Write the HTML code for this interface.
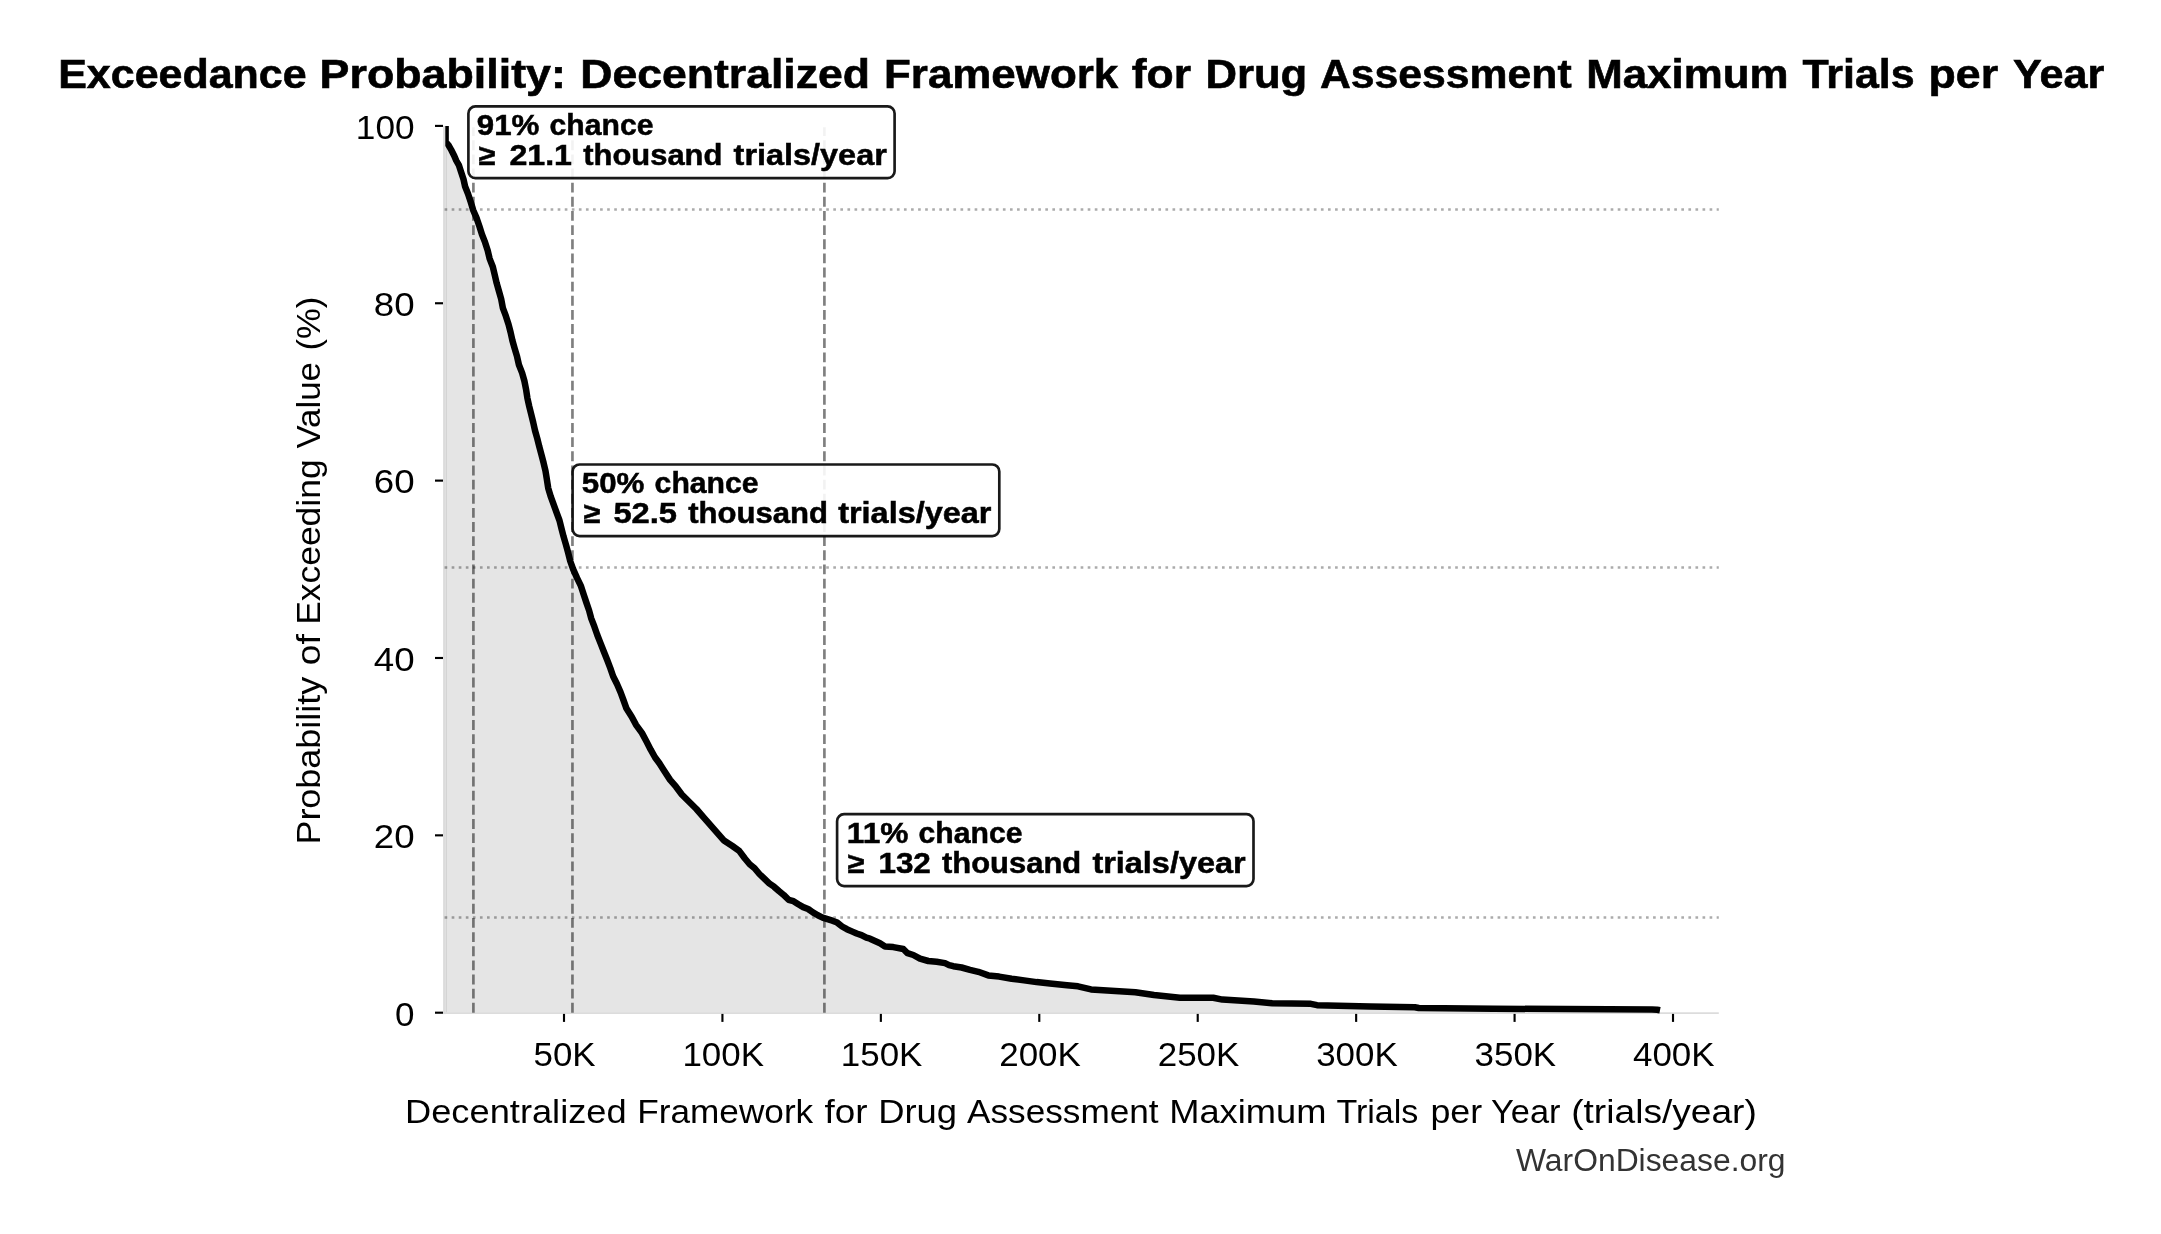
<!DOCTYPE html><html><head><meta charset="utf-8"><style>html,body{margin:0;padding:0;background:#fff;}svg{display:block;will-change:transform;}</style></head><body>
<svg width="2161" height="1234" viewBox="0 0 2161 1234" font-family='"Liberation Sans", sans-serif'>
<rect width="2161" height="1234" fill="#fff"/>
<path d="M445.6,1012.7 L445.6,126.0 L445.6,141.9 L448.5,145.1 L451.3,150.0 L454.2,155.7 L456.2,160.5 L459.0,165.4 L461.1,171.9 L463.5,179.2 L465.1,186.5 L468.0,193.7 L470.4,201.0 L472.4,207.5 L473.1,210.0 L476.6,218.1 L479.4,226.2 L481.9,234.3 L485.1,242.4 L487.7,250.5 L489.6,258.6 L492.8,266.7 L494.7,274.8 L496.6,282.9 L498.9,291.0 L501.2,299.1 L502.9,308.1 L505.9,316.2 L508.5,324.3 L510.6,332.4 L512.4,340.5 L514.7,348.6 L517.1,356.7 L518.9,364.8 L522.1,372.9 L524.4,381.0 L526.0,389.1 L527.4,398.1 L529.2,406.2 L531.2,414.3 L533.2,422.4 L535.0,430.5 L537.3,438.6 L539.3,446.7 L541.5,454.8 L543.6,462.9 L545.5,471.0 L546.8,479.1 L548.2,488.1 L550.6,496.2 L553.6,504.3 L556.5,512.4 L559.5,520.5 L561.5,528.6 L563.6,536.7 L566.0,544.8 L568.2,552.9 L570.2,561.0 L573.1,569.1 L577.1,578.1 L581.0,586.2 L583.6,594.3 L586.3,602.4 L589.1,610.5 L591.3,618.6 L594.4,626.7 L597.2,634.8 L600.4,642.9 L603.6,651.0 L607.2,660.0 L610.3,668.1 L613.1,676.2 L617.1,684.3 L620.6,692.4 L623.6,700.5 L626.5,708.6 L631.7,716.7 L636.0,724.8 L641.9,732.9 L646.5,741.5 L650.7,749.7 L655.1,757.5 L659.4,763.3 L664.3,771.1 L670.1,779.9 L676.0,786.7 L681.8,794.5 L688.6,801.3 L696.4,809.0 L703.2,816.8 L710.0,824.6 L716.8,832.4 L723.6,840.2 L732.4,846.0 L739.2,850.9 L744.9,858.5 L749.7,864.3 L754.6,868.2 L759.4,874.0 L764.3,878.7 L769.2,883.3 L774.0,886.7 L778.9,891.0 L783.7,894.9 L788.6,899.8 L793.5,901.2 L798.3,904.2 L803.2,907.1 L808.1,909.0 L812.9,912.4 L817.8,915.3 L822.6,917.6 L827.5,919.2 L832.4,920.7 L837.2,922.6 L842.1,926.5 L846.9,929.2 L851.8,931.4 L856.7,933.5 L861.5,935.1 L866.4,937.7 L870.0,938.7 L880.0,943.3 L885.0,946.5 L893.3,947.1 L903.3,949.0 L907.5,953.2 L913.3,955.0 L920.0,958.7 L928.3,961.0 L936.6,961.8 L945.0,963.1 L949.1,965.1 L953.3,966.2 L961.6,967.5 L970.0,969.8 L978.3,971.8 L988.3,975.4 L999.1,976.6 L1011.6,978.7 L1024.1,980.4 L1036.6,982.1 L1050.0,983.5 L1067.0,985.2 L1078.0,986.3 L1091.0,989.4 L1135.4,992.2 L1154.0,995.0 L1179.9,997.7 L1213.2,997.7 L1222.4,999.6 L1253.9,1001.4 L1272.2,1003.2 L1310.9,1003.8 L1317.0,1005.2 L1370.0,1006.4 L1414.8,1007.2 L1418.8,1008.0 L1494.0,1008.7 L1565.4,1009.1 L1652.0,1009.4 L1657.0,1009.7 L1660.0,1010.3 L1660.0,1012.7 Z" fill="#e5e5e5" stroke="none"/>
<rect x="443.1" y="125.9" width="2.6" height="888.2" fill="#dcdcdc"/>
<line x1="446.4" y1="141.9" x2="446.4" y2="1012.7" stroke="#cfcfcf" stroke-width="0.9"/>
<line x1="443" y1="1013.1" x2="1718.8" y2="1013.1" stroke="#dcdcdc" stroke-width="1.9"/>
<line x1="444.6" y1="209.48" x2="1718.8" y2="209.48" stroke="#000" stroke-opacity="0.33" stroke-width="2.667" stroke-dasharray="2.667 4.4"/>
<line x1="444.6" y1="567.46" x2="1718.8" y2="567.46" stroke="#000" stroke-opacity="0.33" stroke-width="2.667" stroke-dasharray="2.667 4.4"/>
<line x1="444.6" y1="917.48" x2="1718.8" y2="917.48" stroke="#000" stroke-opacity="0.33" stroke-width="2.667" stroke-dasharray="2.667 4.4"/>
<line x1="473.40" y1="1012.7" x2="473.40" y2="127.3" stroke="#000" stroke-opacity="0.5" stroke-width="2.667" stroke-dasharray="9.87 4.27"/>
<line x1="572.45" y1="1012.7" x2="572.45" y2="127.3" stroke="#000" stroke-opacity="0.5" stroke-width="2.667" stroke-dasharray="9.87 4.27"/>
<line x1="824.40" y1="1012.7" x2="824.40" y2="127.3" stroke="#000" stroke-opacity="0.5" stroke-width="2.667" stroke-dasharray="9.87 4.27"/>
<clipPath id="ax"><rect x="445.3" y="0" width="1400" height="1234"/></clipPath>
<path d="M445.6,126.0 L445.6,141.9 L448.5,145.1 L451.3,150.0 L454.2,155.7 L456.2,160.5 L459.0,165.4 L461.1,171.9 L463.5,179.2 L465.1,186.5 L468.0,193.7 L470.4,201.0 L472.4,207.5 L473.1,210.0 L476.6,218.1 L479.4,226.2 L481.9,234.3 L485.1,242.4 L487.7,250.5 L489.6,258.6 L492.8,266.7 L494.7,274.8 L496.6,282.9 L498.9,291.0 L501.2,299.1 L502.9,308.1 L505.9,316.2 L508.5,324.3 L510.6,332.4 L512.4,340.5 L514.7,348.6 L517.1,356.7 L518.9,364.8 L522.1,372.9 L524.4,381.0 L526.0,389.1 L527.4,398.1 L529.2,406.2 L531.2,414.3 L533.2,422.4 L535.0,430.5 L537.3,438.6 L539.3,446.7 L541.5,454.8 L543.6,462.9 L545.5,471.0 L546.8,479.1 L548.2,488.1 L550.6,496.2 L553.6,504.3 L556.5,512.4 L559.5,520.5 L561.5,528.6 L563.6,536.7 L566.0,544.8 L568.2,552.9 L570.2,561.0 L573.1,569.1 L577.1,578.1 L581.0,586.2 L583.6,594.3 L586.3,602.4 L589.1,610.5 L591.3,618.6 L594.4,626.7 L597.2,634.8 L600.4,642.9 L603.6,651.0 L607.2,660.0 L610.3,668.1 L613.1,676.2 L617.1,684.3 L620.6,692.4 L623.6,700.5 L626.5,708.6 L631.7,716.7 L636.0,724.8 L641.9,732.9 L646.5,741.5 L650.7,749.7 L655.1,757.5 L659.4,763.3 L664.3,771.1 L670.1,779.9 L676.0,786.7 L681.8,794.5 L688.6,801.3 L696.4,809.0 L703.2,816.8 L710.0,824.6 L716.8,832.4 L723.6,840.2 L732.4,846.0 L739.2,850.9 L744.9,858.5 L749.7,864.3 L754.6,868.2 L759.4,874.0 L764.3,878.7 L769.2,883.3 L774.0,886.7 L778.9,891.0 L783.7,894.9 L788.6,899.8 L793.5,901.2 L798.3,904.2 L803.2,907.1 L808.1,909.0 L812.9,912.4 L817.8,915.3 L822.6,917.6 L827.5,919.2 L832.4,920.7 L837.2,922.6 L842.1,926.5 L846.9,929.2 L851.8,931.4 L856.7,933.5 L861.5,935.1 L866.4,937.7 L870.0,938.7 L880.0,943.3 L885.0,946.5 L893.3,947.1 L903.3,949.0 L907.5,953.2 L913.3,955.0 L920.0,958.7 L928.3,961.0 L936.6,961.8 L945.0,963.1 L949.1,965.1 L953.3,966.2 L961.6,967.5 L970.0,969.8 L978.3,971.8 L988.3,975.4 L999.1,976.6 L1011.6,978.7 L1024.1,980.4 L1036.6,982.1 L1050.0,983.5 L1067.0,985.2 L1078.0,986.3 L1091.0,989.4 L1135.4,992.2 L1154.0,995.0 L1179.9,997.7 L1213.2,997.7 L1222.4,999.6 L1253.9,1001.4 L1272.2,1003.2 L1310.9,1003.8 L1317.0,1005.2 L1370.0,1006.4 L1414.8,1007.2 L1418.8,1008.0 L1494.0,1008.7 L1565.4,1009.1 L1652.0,1009.4 L1657.0,1009.7 L1660.0,1010.3" fill="none" stroke="#000" stroke-width="6.5" stroke-linejoin="round" stroke-linecap="butt" clip-path="url(#ax)"/>
<line x1="435" y1="1012.70" x2="443" y2="1012.70" stroke="#000" stroke-width="2.13"/>
<text x="395.10" y="1025.5" font-size="34" textLength="19.5" lengthAdjust="spacingAndGlyphs">0</text>
<line x1="435" y1="835.34" x2="443" y2="835.34" stroke="#000" stroke-width="2.13"/>
<text x="373.78" y="848.1" font-size="34" textLength="40.82" lengthAdjust="spacingAndGlyphs">20</text>
<line x1="435" y1="657.98" x2="443" y2="657.98" stroke="#000" stroke-width="2.13"/>
<text x="373.78" y="670.8" font-size="34" textLength="40.82" lengthAdjust="spacingAndGlyphs">40</text>
<line x1="435" y1="480.62" x2="443" y2="480.62" stroke="#000" stroke-width="2.13"/>
<text x="373.78" y="493.4" font-size="34" textLength="40.82" lengthAdjust="spacingAndGlyphs">60</text>
<line x1="435" y1="303.26" x2="443" y2="303.26" stroke="#000" stroke-width="2.13"/>
<text x="373.78" y="316.1" font-size="34" textLength="40.82" lengthAdjust="spacingAndGlyphs">80</text>
<line x1="435" y1="125.90" x2="443" y2="125.90" stroke="#000" stroke-width="2.13"/>
<text x="355.82" y="138.7" font-size="34" textLength="58.78" lengthAdjust="spacingAndGlyphs">100</text>
<line x1="564.00" y1="1013.9" x2="564.00" y2="1021.9" stroke="#000" stroke-width="2.13"/>
<text x="533.50" y="1066" font-size="34" textLength="62.12" lengthAdjust="spacingAndGlyphs">50K</text>
<line x1="722.43" y1="1013.9" x2="722.43" y2="1021.9" stroke="#000" stroke-width="2.13"/>
<text x="682.43" y="1066" font-size="34" textLength="81.54" lengthAdjust="spacingAndGlyphs">100K</text>
<line x1="880.86" y1="1013.9" x2="880.86" y2="1021.9" stroke="#000" stroke-width="2.13"/>
<text x="840.86" y="1066" font-size="34" textLength="81.54" lengthAdjust="spacingAndGlyphs">150K</text>
<line x1="1039.29" y1="1013.9" x2="1039.29" y2="1021.9" stroke="#000" stroke-width="2.13"/>
<text x="999.29" y="1066" font-size="34" textLength="81.54" lengthAdjust="spacingAndGlyphs">200K</text>
<line x1="1197.72" y1="1013.9" x2="1197.72" y2="1021.9" stroke="#000" stroke-width="2.13"/>
<text x="1157.72" y="1066" font-size="34" textLength="81.54" lengthAdjust="spacingAndGlyphs">250K</text>
<line x1="1356.15" y1="1013.9" x2="1356.15" y2="1021.9" stroke="#000" stroke-width="2.13"/>
<text x="1316.15" y="1066" font-size="34" textLength="81.54" lengthAdjust="spacingAndGlyphs">300K</text>
<line x1="1514.58" y1="1013.9" x2="1514.58" y2="1021.9" stroke="#000" stroke-width="2.13"/>
<text x="1474.58" y="1066" font-size="34" textLength="81.54" lengthAdjust="spacingAndGlyphs">350K</text>
<line x1="1673.01" y1="1013.9" x2="1673.01" y2="1021.9" stroke="#000" stroke-width="2.13"/>
<text x="1633.01" y="1066" font-size="34" textLength="81.54" lengthAdjust="spacingAndGlyphs">400K</text>
<rect x="468.4" y="106.4" width="426.2" height="71.8" rx="7" ry="7" fill="#fff" fill-opacity="0.9" stroke="#000" stroke-opacity="0.9" stroke-width="2.667"/>
<rect x="572.6" y="464.5" width="426.7" height="71.6" rx="7" ry="7" fill="#fff" fill-opacity="0.9" stroke="#000" stroke-opacity="0.9" stroke-width="2.667"/>
<rect x="837.1" y="814.2" width="416.4" height="71.9" rx="7" ry="7" fill="#fff" fill-opacity="0.9" stroke="#000" stroke-opacity="0.9" stroke-width="2.667"/>
<text x="476.8" y="135.1" font-size="29" font-weight="bold" stroke="#000" stroke-width="0.5" textLength="62.64" lengthAdjust="spacingAndGlyphs">91%</text>
<text x="549.6" y="135.1" font-size="29" font-weight="bold" stroke="#000" stroke-width="0.5" textLength="103.82" lengthAdjust="spacingAndGlyphs">chance</text>
<text x="478.8" y="164.9" font-size="29" font-weight="bold" stroke="#000" stroke-width="0.5" textLength="16.84" lengthAdjust="spacingAndGlyphs">≥</text>
<text x="509.4" y="164.9" font-size="29" font-weight="bold" stroke="#000" stroke-width="0.5" textLength="62.61" lengthAdjust="spacingAndGlyphs">21.1</text>
<text x="583.2" y="164.9" font-size="29" font-weight="bold" stroke="#000" stroke-width="0.5" textLength="139.22" lengthAdjust="spacingAndGlyphs">thousand</text>
<text x="733.6" y="164.9" font-size="29" font-weight="bold" stroke="#000" stroke-width="0.5" textLength="153.21" lengthAdjust="spacingAndGlyphs">trials/year</text>
<text x="581.8" y="492.9" font-size="29" font-weight="bold" stroke="#000" stroke-width="0.5" textLength="62.63" lengthAdjust="spacingAndGlyphs">50%</text>
<text x="654.6" y="492.9" font-size="29" font-weight="bold" stroke="#000" stroke-width="0.5" textLength="104.01" lengthAdjust="spacingAndGlyphs">chance</text>
<text x="583.8" y="522.7" font-size="29" font-weight="bold" stroke="#000" stroke-width="0.5" textLength="16.84" lengthAdjust="spacingAndGlyphs">≥</text>
<text x="613.4" y="522.7" font-size="29" font-weight="bold" stroke="#000" stroke-width="0.5" textLength="63.65" lengthAdjust="spacingAndGlyphs">52.5</text>
<text x="688.2" y="522.7" font-size="29" font-weight="bold" stroke="#000" stroke-width="0.5" textLength="139.82" lengthAdjust="spacingAndGlyphs">thousand</text>
<text x="838.2" y="522.7" font-size="29" font-weight="bold" stroke="#000" stroke-width="0.5" textLength="153.2" lengthAdjust="spacingAndGlyphs">trials/year</text>
<text x="846.8" y="842.9" font-size="29" font-weight="bold" stroke="#000" stroke-width="0.5" textLength="61.65" lengthAdjust="spacingAndGlyphs">11%</text>
<text x="918.6" y="842.9" font-size="29" font-weight="bold" stroke="#000" stroke-width="0.5" textLength="103.82" lengthAdjust="spacingAndGlyphs">chance</text>
<text x="847.8" y="872.7" font-size="29" font-weight="bold" stroke="#000" stroke-width="0.5" textLength="16.88" lengthAdjust="spacingAndGlyphs">≥</text>
<text x="878.4" y="872.7" font-size="29" font-weight="bold" stroke="#000" stroke-width="0.5" textLength="52.48" lengthAdjust="spacingAndGlyphs">132</text>
<text x="942.0" y="872.7" font-size="29" font-weight="bold" stroke="#000" stroke-width="0.5" textLength="139.21" lengthAdjust="spacingAndGlyphs">thousand</text>
<text x="1092.4" y="872.7" font-size="29" font-weight="bold" stroke="#000" stroke-width="0.5" textLength="153.21" lengthAdjust="spacingAndGlyphs">trials/year</text>
<text x="58.2" y="88" font-size="40" font-weight="bold" stroke="#000" stroke-width="0.6" textLength="248.45" lengthAdjust="spacingAndGlyphs">Exceedance</text>
<text x="319.6" y="88" font-size="40" font-weight="bold" stroke="#000" stroke-width="0.6" textLength="246.34" lengthAdjust="spacingAndGlyphs">Probability:</text>
<text x="580.2" y="88" font-size="40" font-weight="bold" stroke="#000" stroke-width="0.6" textLength="289.87" lengthAdjust="spacingAndGlyphs">Decentralized</text>
<text x="884.0" y="88" font-size="40" font-weight="bold" stroke="#000" stroke-width="0.6" textLength="234.21" lengthAdjust="spacingAndGlyphs">Framework</text>
<text x="1131.8" y="88" font-size="40" font-weight="bold" stroke="#000" stroke-width="0.6" textLength="59.21" lengthAdjust="spacingAndGlyphs">for</text>
<text x="1205.4" y="88" font-size="40" font-weight="bold" stroke="#000" stroke-width="0.6" textLength="101.8" lengthAdjust="spacingAndGlyphs">Drug</text>
<text x="1320.0" y="88" font-size="40" font-weight="bold" stroke="#000" stroke-width="0.6" textLength="251.6" lengthAdjust="spacingAndGlyphs">Assessment</text>
<text x="1586.2" y="88" font-size="40" font-weight="bold" stroke="#000" stroke-width="0.6" textLength="202.29" lengthAdjust="spacingAndGlyphs">Maximum</text>
<text x="1802.4" y="88" font-size="40" font-weight="bold" stroke="#000" stroke-width="0.6" textLength="112.21" lengthAdjust="spacingAndGlyphs">Trials</text>
<text x="1928.6" y="88" font-size="40" font-weight="bold" stroke="#000" stroke-width="0.6" textLength="69.47" lengthAdjust="spacingAndGlyphs">per</text>
<text x="2013.0" y="88" font-size="40" font-weight="bold" stroke="#000" stroke-width="0.6" textLength="91.21" lengthAdjust="spacingAndGlyphs">Year</text>
<text x="405.0" y="1123" font-size="34" textLength="221.69" lengthAdjust="spacingAndGlyphs">Decentralized</text>
<text x="637.2" y="1123" font-size="34" textLength="176.04" lengthAdjust="spacingAndGlyphs">Framework</text>
<text x="824.4" y="1123" font-size="34" textLength="43.02" lengthAdjust="spacingAndGlyphs">for</text>
<text x="878.2" y="1123" font-size="34" textLength="78.88" lengthAdjust="spacingAndGlyphs">Drug</text>
<text x="967.0" y="1123" font-size="34" textLength="191.6" lengthAdjust="spacingAndGlyphs">Assessment</text>
<text x="1169.2" y="1123" font-size="34" textLength="157.32" lengthAdjust="spacingAndGlyphs">Maximum</text>
<text x="1336.4" y="1123" font-size="34" textLength="82.01" lengthAdjust="spacingAndGlyphs">Trials</text>
<text x="1430.4" y="1123" font-size="34" textLength="51.74" lengthAdjust="spacingAndGlyphs">per</text>
<text x="1491.0" y="1123" font-size="34" textLength="69.45" lengthAdjust="spacingAndGlyphs">Year</text>
<text x="1571.2" y="1123" font-size="34" textLength="185.68" lengthAdjust="spacingAndGlyphs">(trials/year)</text>
<text transform="translate(320,844.6) rotate(-90)" font-size="34" textLength="167.86" lengthAdjust="spacingAndGlyphs">Probability</text>
<text transform="translate(320,665.2) rotate(-90)" font-size="34" textLength="31.03" lengthAdjust="spacingAndGlyphs">of</text>
<text transform="translate(320,624.8) rotate(-90)" font-size="34" textLength="165.38" lengthAdjust="spacingAndGlyphs">Exceeding</text>
<text transform="translate(320,448.6) rotate(-90)" font-size="34" textLength="86.45" lengthAdjust="spacingAndGlyphs">Value</text>
<text transform="translate(320,350.6) rotate(-90)" font-size="34" textLength="53.97" lengthAdjust="spacingAndGlyphs">(%)</text>
<text x="1516" y="1171" font-size="31" fill="#333" textLength="269.5" lengthAdjust="spacingAndGlyphs">WarOnDisease.org</text>
</svg></body></html>
